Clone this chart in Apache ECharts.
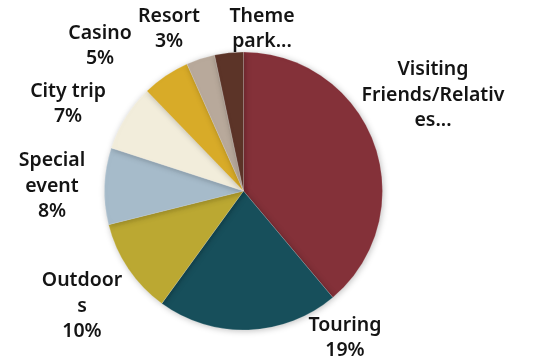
<!DOCTYPE html>
<html>
<head>
<meta charset="utf-8">
<script src="https://cdn.jsdelivr.net/npm/echarts@6/dist/echarts.min.js"></script>
<style>
  html, body { margin: 0; padding: 0; background: #ffffff; }
  #chart { width: 540px; height: 360px; }
</style>
</head>
<body>
<div id="chart"></div>
<script>
// Trip purpose shares (percent), clockwise from 12 o'clock
var categories = ['Visiting Friends/Relatives', 'Touring', 'Outdoors', 'Special event', 'City trip', 'Casino', 'Resort', 'Theme park'];
var values = [35, 19, 10, 8, 7, 5, 3, 3];
// Label text as it wraps in the chart (long names are cut off)
var labelTexts = [
  'Visiting\nFriends/Relativ\nes...',
  'Touring\n19%',
  'Outdoor\ns\n10%',
  'Special\nevent\n8%',
  'City trip\n7%',
  'Casino\n5%',
  'Resort\n3%',
  'Theme\npark...'
];

var colors = ['#843139', '#174f5b', '#bba832', '#a6bbca', '#f2eddb', '#d8ab28', '#b8a99b', '#5c3428'];
// Label centres in pixels
var labelPos = [[433, 95], [345, 338], [82, 306], [52, 186], [68, 104], [100, 46], [169, 29], [262, 29]];

var chart = echarts.init(document.getElementById('chart'), null, { renderer: 'canvas' });
chart.setOption({
  animation: false,
  series: [{
    type: 'pie',
    center: [243.5, 191],
    radius: 139,
    startAngle: 90,
    clockwise: true,
    avoidLabelOverlap: false,
    itemStyle: {
      borderColor: 'rgba(255,255,255,0.35)',
      borderWidth: 0.5,
      shadowBlur: 6,
      shadowColor: 'rgba(0,0,0,0.25)',
      shadowOffsetX: 1,
      shadowOffsetY: 1
    },
    label: {
      show: true,
      position: 'outside',
      fontFamily: 'Noto Sans',
      fontSize: 19.5,
      fontWeight: 600,
      lineHeight: 25.5,
      color: '#141414',
      align: 'center',
      formatter: function (p) { return labelTexts[p.dataIndex]; }
    },
    labelLine: { show: false },
    labelLayout: function (params) {
      var pos = labelPos[params.dataIndex];
      return { x: pos[0], y: pos[1], align: 'center', verticalAlign: 'middle' };
    },
    emphasis: { disabled: true },
    data: categories.map(function (name, i) {
      return { name: name, value: values[i], itemStyle: { color: colors[i] } };
    })
  }]
});
</script>
</body>
</html>
